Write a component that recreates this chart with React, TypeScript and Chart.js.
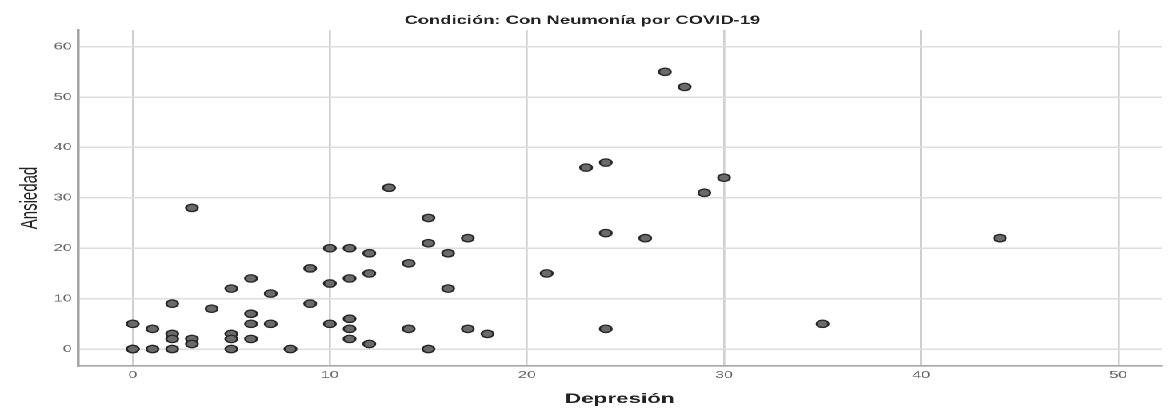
import React, { useEffect, useRef } from "react";
import { Chart, registerables } from "chart.js";

Chart.register(...registerables);

// Data (Depresión, Ansiedad)
const depresion = [
  0, 0, 0, 1, 1, 2, 2, 2, 2, 3, 3, 3, 4, 5, 5, 5, 5, 6, 6, 6, 6, 7, 7, 8, 9, 9,
  10, 10, 10, 11, 11, 11, 11, 11, 12, 12, 12, 13, 14, 14, 15, 15, 15, 16, 16, 17,
  17, 18, 21, 23, 24, 24, 24, 26, 27, 28, 29, 30, 35, 44,
];
const ansiedad = [
  5, 0, 0, 4, 0, 9, 3, 2, 0, 28, 2, 1, 8, 12, 3, 2, 0, 14, 7, 5, 2, 11, 5, 0, 16, 9,
  20, 13, 5, 20, 14, 6, 4, 2, 19, 15, 1, 32, 17, 4, 26, 21, 0, 19, 12, 22,
  4, 3, 15, 36, 37, 23, 4, 22, 55, 52, 31, 34, 5, 22,
];
const xTicks = [0, 10, 20, 30, 40, 50];
const yTicks = [0, 10, 20, 30, 40, 50, 60];

const chartTitle = "Condición: Con Neumonía por COVID-19";
const xTitle = "Depresión";
const yTitle = "Ansiedad";

const STRETCH = 1.6;
const W = Math.round(1169 / STRETCH);
const H = 410;
const FONT = "'Liberation Sans', Arial, sans-serif";

export default function App() {
  const ref = useRef<HTMLCanvasElement | null>(null);

  useEffect(() => {
    if (!ref.current) return;
    const points = depresion.map((x, i) => ({ x, y: ansiedad[i] }));
    const chart = new Chart(ref.current, {
      type: "scatter",
      data: {
        datasets: [
          {
            data: points,
            backgroundColor: "#6a6a6a",
            borderColor: "#262626",
            borderWidth: 1.3,
            pointRadius: 3.7,
            pointHoverRadius: 3.7,
          },
        ],
      },
      options: {
        animation: false,
        responsive: false,
        devicePixelRatio: 2,
        layout: { padding: { left: 0, right: 3, top: 0, bottom: 0 } },
        plugins: {
          legend: { display: false },
          tooltip: { enabled: false },
          title: {
            display: true,
            text: chartTitle,
            color: "#222",
            font: { family: FONT, size: 11.5, weight: "bold" },
            padding: { top: 14, bottom: 2.2 },
          },
        },
        scales: {
          x: {
            type: "linear",
            min: -2.78,
            max: 52.2,
            afterBuildTicks: (scale: any) => {
              scale.ticks = xTicks.map((v) => ({ value: v }));
            },
            afterFit: (scale: any) => {
              scale.height = 44;
            },
            ticks: {
              color: "#666",
              font: { family: FONT, size: 10 },
              padding: 3,
              maxRotation: 0,
              autoSkip: false,
            },
            grid: {
              color: "#cfcfcf",
              lineWidth: 1.3,
              drawTicks: false,
            },
            border: { display: true, color: "#a6a6a6", width: 1.6 },
            title: {
              display: true,
              text: xTitle,
              color: "#222",
              font: { family: FONT, size: 14, weight: "bold" },
              padding: { top: 0, bottom: 2.6 },
            },
          },
          y: {
            type: "linear",
            min: -3.37,
            max: 63.3,
            afterBuildTicks: (scale: any) => {
              scale.ticks = yTicks.map((v) => ({ value: v }));
            },
            afterFit: (scale: any) => {
              scale.width = 48.75;
            },
            ticks: {
              color: "#666",
              font: { family: FONT, size: 10 },
              padding: 4,
              autoSkip: false,
            },
            grid: {
              color: "#dddddd",
              lineWidth: 1.5,
              drawTicks: false,
            },
            border: { display: true, color: "#a6a6a6", width: 1.8 },
            title: {
              display: true,
              text: yTitle,
              color: "#222",
              font: { family: FONT, size: 15, weight: "normal" },
              padding: { top: 10, bottom: 0 },
            },
          },
        },
      },
    });
    return () => chart.destroy();
  }, []);

  return (
    <div
      style={{
        position: "absolute",
        left: 0,
        top: 0,
        width: W,
        height: H,
        transform: `scaleX(${STRETCH})`,
        transformOrigin: "0 0",
        background: "#fff",
      }}
    >
      <canvas ref={ref} width={W} height={H} style={{ width: W, height: H, display: "block" }} />
    </div>
  );
}
